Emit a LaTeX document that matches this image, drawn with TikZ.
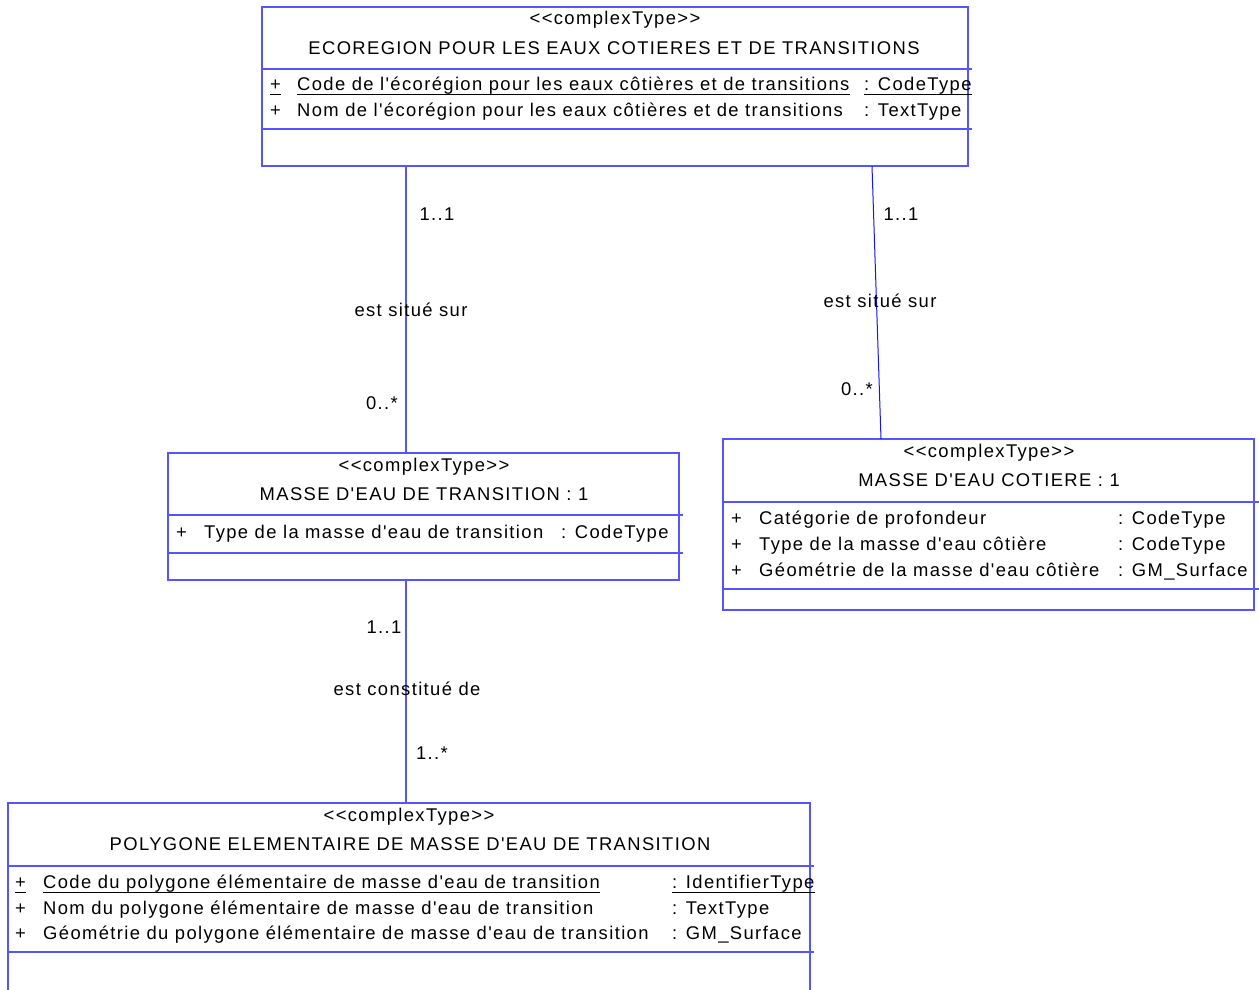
\documentclass[tikz,border=0pt]{standalone}
\usepackage{fontspec}
\setmainfont{Liberation Sans}[LetterSpace=7.5, Ligatures={TeXOff,NoCommon}]
\definecolor{umlc}{RGB}{85,85,255}
\definecolor{umld}{RGB}{20,20,255}
\newcommand{\fs}{\fontsize{18.4}{22}\selectfont}
\begin{document}
\begin{tikzpicture}[x=1pt,y=-1pt,
  box/.style={draw=umlc, line width=1.2pt, inner sep=0, outer sep=0, anchor=north west, rectangle},
  sep/.style={draw=umlc, line width=1.2pt},
  lbl/.style={anchor=base, inner sep=0, font=\fs, text=black},
  att/.style={anchor=base west, inner sep=0, font=\fs, text=black},
  ul/.style={line width=1.1pt, black},
  conn/.style={draw=umlc, line width=1.2pt}]
\useasboundingbox (0,0) rectangle (1259,989);
\clip (0,0) rectangle (1259,989);

% ---------- Box 1 : ECOREGION ----------
\node[box, minimum width=706pt, minimum height=159pt] (e1) at (262,7) {};
\draw[sep] (262,69) -- (972,69);
\draw[sep] (262,129) -- (972,129);
\node[lbl] (e1s) at (615,24) {<<complexType>>};
\node[lbl] (e1t) at (614,54) {ECOREGION POUR LES EAUX COTIERES ET DE TRANSITIONS};
\node[att] (e1p1) at (270,90.5) {+};
\node[att] (e1n1) at (297,90.5) {Code de l'écorégion pour les eaux côtières et de transitions};
\node[att] (e1y1) at (864,90.5) {: CodeType};
\node[att] (e1p2) at (270,116.5) {+};
\node[att] (e1n2) at (297,116.5) {Nom de l'écorégion pour les eaux côtières et de transitions};
\node[att] (e1y2) at (864,116.5) {: TextType};
\draw[ul] ([yshift=-4pt]e1p1.base west) -- ([yshift=-4pt]e1p1.base east);
\draw[ul] ([yshift=-4pt]e1n1.base west) -- ([yshift=-4pt]e1n1.base east);
\draw[ul] ([yshift=-4pt]e1y1.base west) -- ([yshift=-4pt]e1y1.base east);

% ---------- Box 2 : MASSE D'EAU DE TRANSITION ----------
\node[box, minimum width=511pt, minimum height=127pt] (t1) at (168,453) {};
\draw[sep] (168,515) -- (683,515);
\draw[sep] (168,553) -- (683,553);
\node[lbl] (t1s) at (424,471) {<<complexType>>};
\node[lbl] (t1t) at (424,500.5) {MASSE D'EAU DE TRANSITION : 1};
\node[att] (t1p1) at (176,538.5) {+};
\node[att] (t1n1) at (204,538.5) {Type de la masse d'eau de transition};
\node[att] (t1y1) at (561,538.5) {: CodeType};

% ---------- Box 3 : MASSE D'EAU COTIERE ----------
\node[box, minimum width=531pt, minimum height=171pt] (c1) at (723,439) {};
\draw[sep] (723,502) -- (1259,502);
\draw[sep] (723,589) -- (1259,589);
\node[lbl] (c1s) at (989,457) {<<complexType>>};
\node[lbl] (c1t) at (989,486.5) {MASSE D'EAU COTIERE : 1};
\node[att] (c1p1) at (731,524.5) {+};
\node[att] (c1n1) at (759,524.5) {Catégorie de profondeur};
\node[att] (c1y1) at (1118,524.5) {: CodeType};
\node[att] (c1p2) at (731,550.5) {+};
\node[att] (c1n2) at (759,550.5) {Type de la masse d'eau côtière};
\node[att] (c1y2) at (1118,550.5) {: CodeType};
\node[att] (c1p3) at (731,576.5) {+};
\node[att] (c1n3) at (759,576.5) {Géométrie de la masse d'eau côtière};
\node[att] (c1y3) at (1118,576.5) {: GM\_Surface};

% ---------- Box 4 : POLYGONE ELEMENTAIRE ----------
\node[box, minimum width=802pt, minimum height=200pt] (p1) at (8,803) {};
\draw[sep] (8,866) -- (814,866);
\draw[sep] (8,952) -- (814,952);
\node[lbl] (p1s) at (409,821) {<<complexType>>};
\node[lbl] (p1t) at (410,850.5) {POLYGONE ELEMENTAIRE DE MASSE D'EAU DE TRANSITION};
\node[att] (p1p1) at (15,888.5) {+};
\node[att] (p1n1) at (43,888.5) {Code du polygone élémentaire de masse d'eau de transition};
\node[att] (p1y1) at (672,888.5) {: IdentifierType};
\node[att] (p1p2) at (15,914.5) {+};
\node[att] (p1n2) at (43,914.5) {Nom du polygone élémentaire de masse d'eau de transition};
\node[att] (p1y2) at (672,914.5) {: TextType};
\node[att] (p1p3) at (15,939.5) {+};
\node[att] (p1n3) at (43,939.5) {Géométrie du polygone élémentaire de masse d'eau de transition};
\node[att] (p1y3) at (672,939.5) {: GM\_Surface};
\draw[ul] ([yshift=-4pt]p1p1.base west) -- ([yshift=-4pt]p1p1.base east);
\draw[ul] ([yshift=-4pt]p1n1.base west) -- ([yshift=-4pt]p1n1.base east);
\draw[ul] ([yshift=-4pt]p1y1.base west) -- ([yshift=-4pt]p1y1.base east);

% ---------- Connectors ----------
\draw[conn] (e1.south -| 406,0) -- (t1.north -| 406,0);
\draw[draw=umld, line width=1pt] (e1.south -| 872,0) -- (c1.north -| 881,0);
\draw[conn] (t1.south -| 406,0) -- (p1.north -| 406,0);

% ---------- Connector labels ----------
\node[lbl] (l1a) at (437,220.5) {1..1};
\node[lbl] (l1b) at (411,316) {est situé sur};
\node[lbl] (l1c) at (382,409) {0..*};
\node[lbl] (l2a) at (901,220.5) {1..1};
\node[lbl] (l2b) at (880,307) {est situé sur};
\node[lbl] (l2c) at (857,395) {0..*};
\node[lbl] (l3a) at (384,633.5) {1..1};
\node[lbl] (l3b) at (407,695) {est constitué de};
\node[lbl] (l3c) at (432,759) {1..*};
\end{tikzpicture}
\end{document}
